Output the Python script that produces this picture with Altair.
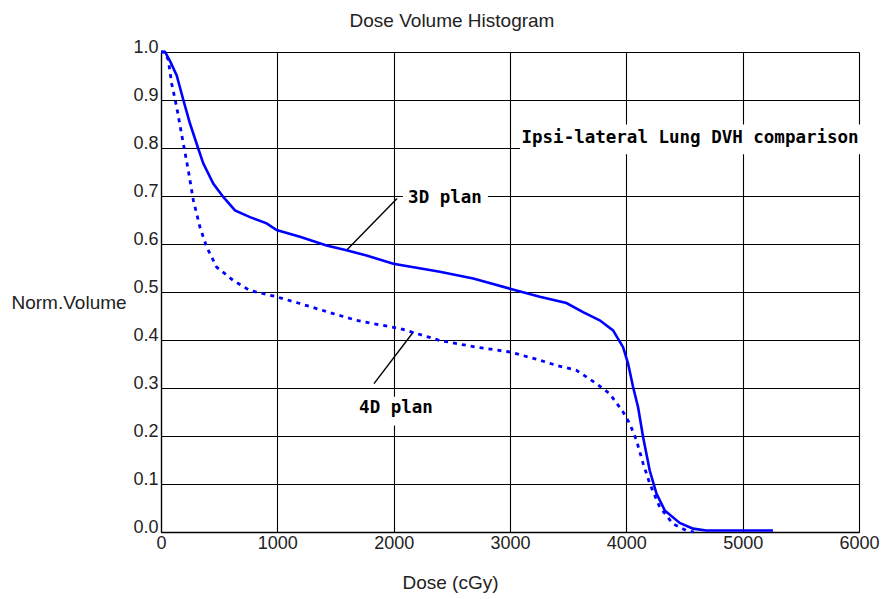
import altair as alt
import pandas as pd

# Dose-volume curves (dose in cGy, fractional volume)
dose_3d = [0, 35, 80, 135, 192, 249, 320, 363, 449, 535, 636, 765, 908, 994, 1194,
           1423, 1595, 1767, 1997, 2397, 2684, 3000, 3256, 3485, 3628, 3771, 3886,
           3972, 4015, 4058, 4101, 4144, 4201, 4259, 4330, 4459, 4573, 4688, 5260]
vol_3d = [1.0, 1.0, 0.98, 0.951, 0.9, 0.851, 0.799, 0.768, 0.726, 0.698, 0.67, 0.656,
          0.643, 0.629, 0.615, 0.597, 0.587, 0.576, 0.559, 0.542, 0.528, 0.507, 0.490,
          0.477, 0.458, 0.441, 0.42, 0.385, 0.351, 0.302, 0.26, 0.198, 0.128, 0.08,
          0.045, 0.019, 0.007, 0.003, 0.003]

dose_4d = [0, 35, 63, 92, 135, 192, 235, 278, 335, 392, 478, 621, 765, 994, 1194, 1480,
           1681, 1824, 2053, 2397, 2712, 3000, 3256, 3400, 3571, 3743, 3857, 3972, 4029,
           4087, 4144, 4201, 4287, 4401, 4516, 4580]
vol_4d = [1.0, 1.0, 0.983, 0.934, 0.885, 0.809, 0.753, 0.691, 0.635, 0.594, 0.552, 0.524,
          0.503, 0.490, 0.476, 0.455, 0.441, 0.434, 0.424, 0.399, 0.385, 0.375, 0.358,
          0.347, 0.337, 0.309, 0.288, 0.250, 0.226, 0.191, 0.143, 0.101, 0.052, 0.017,
          0.003, 0.0]

# Annotation labels with their white backing boxes
note_text = ["Ipsi-lateral Lung DVH comparison", "3D plan", "4D plan"]
note_x = [4548, 2441, 2020]
note_y = [0.821, 0.695, 0.259]
box_x0 = [3086, 2080, 1676]
box_x1 = [6026, 2810, 2364]
box_y0 = [0.849, 0.716, 0.282]
box_y1 = [0.787, 0.670, 0.222]

# Leader lines from labels to curves
lead_x0 = [1595, 2169]
lead_y0 = [0.587, 0.4167]
lead_x1 = [2029, 1831]
lead_y1 = [0.6946, 0.309]

x_ticks = [0, 1000, 2000, 3000, 4000, 5000, 6000]
y_ticks = [0.0, 0.1, 0.2, 0.3, 0.4, 0.5, 0.6, 0.7, 0.8, 0.9, 1.0]

df3 = pd.DataFrame({"dose": dose_3d, "vol": vol_3d, "i": range(len(dose_3d))})
df4 = pd.DataFrame({"dose": dose_4d, "vol": vol_4d, "i": range(len(dose_4d))})
notes = pd.DataFrame({"label": note_text, "dose": note_x, "vol": note_y,
                      "dose2": box_x0, "dose3": box_x1, "v0": box_y0, "v1": box_y1})
leads = pd.DataFrame({"dose": lead_x0, "vol": lead_y0, "dose2": lead_x1, "v2": lead_y1})

W, H = 698, 480
xs = alt.Scale(domain=[0, 6000], nice=False, zero=False)
ys = alt.Scale(domain=[0, 1], nice=False)

x_axis = alt.Axis(
    values=x_ticks, format="d", grid=True, gridColor="#000", gridWidth=1.1,
    domainColor="#000", domainWidth=1.3, ticks=False, labelFlush=False,
    labelFont="Liberation Sans", labelFontSize=18, labelColor="#222", labelPadding=2,
    labelOverlap=False,
    title="Dose (cGy)", titleFont="Liberation Sans", titleFontSize=19,
    titleFontWeight="normal", titleColor="#222", titleX=289, titleY=56,
    titleAlign="center", titleBaseline="alphabetic",
)
y_axis = alt.Axis(
    values=y_ticks, format=".1f", grid=True, gridColor="#000", gridWidth=1.1,
    domainColor="#000", domainWidth=1.3, ticks=False, labelFlush=False,
    labelFont="Liberation Sans", labelFontSize=18, labelColor="#222", labelPadding=3,
    labelBaseline="alphabetic", labelOverlap=False,
    title="Norm.Volume", titleFont="Liberation Sans", titleFontSize=19,
    titleFontWeight="normal", titleColor="#222", titleAngle=0, titleAlign="left",
    titleX=-150, titleY=256, titleBaseline="alphabetic",
)

X = alt.X("dose:Q", scale=xs, axis=x_axis)
Y = alt.Y("vol:Q", scale=ys, axis=y_axis)

line3 = alt.Chart(df3).mark_line(color="#0000ff", strokeWidth=2.6).encode(
    x=X, y=Y, order="i:Q")
line4 = alt.Chart(df4).mark_line(color="#0000ff", strokeWidth=2.8,
                                 strokeDash=[4, 5]).encode(x=X, y=Y, order="i:Q")

boxes = alt.Chart(notes).mark_rect(fill="white").encode(
    x=alt.X("dose2:Q", scale=xs, axis=x_axis), x2="dose3:Q",
    y=alt.Y("v0:Q", scale=ys, axis=y_axis), y2="v1:Q")

labels = alt.Chart(notes).mark_text(
    font="DejaVu Sans Mono", fontWeight="bold", fontSize=17.5, color="#000",
    align="center", baseline="middle").encode(x=X, y=Y, text="label:N")

leaders = alt.Chart(leads).mark_rule(color="#000", strokeWidth=1.4).encode(
    x=X, y=Y, x2="dose2:Q", y2="v2:Q")

chart = alt.layer(boxes, leaders, line4, line3, labels).properties(
    width=W, height=H,
    title=alt.TitleParams("Dose Volume Histogram", font="Liberation Sans",
                          fontSize=19, fontWeight="normal", color="#222",
                          anchor="middle", dx=-58, offset=-8, baseline="alphabetic"),
    autosize=alt.AutoSizeParams(type="none"),
    padding={"left": 161, "top": 52, "right": 27, "bottom": 67},
).configure_view(stroke=None).configure(background="white")

chart.save("out.html", embed_options={"renderer": "svg", "actions": False})
